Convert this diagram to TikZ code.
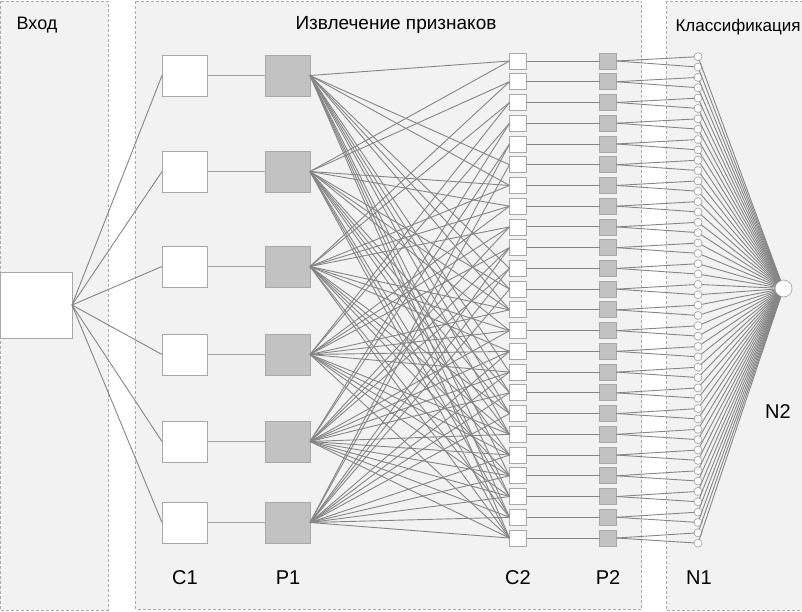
\documentclass[tikz,border=0pt]{standalone}
\usepackage{fontspec}
\setmainfont{Liberation Sans}
\definecolor{panelbg}{HTML}{F2F2F2}
\definecolor{panelline}{HTML}{AAAAAA}
\definecolor{boxline}{HTML}{A8A8A8}
\definecolor{poolfill}{HTML}{C2C2C2}
\definecolor{linkgray}{HTML}{858585}
\definecolor{barline}{HTML}{A0A0A0}
\begin{document}
\begin{tikzpicture}[x=1pt,y=-1pt,
  panel/.style={fill=panelbg,draw=panelline,dash pattern=on 3pt off 2pt,line width=0.7pt},
  convbox/.style={draw=boxline,fill=white,line width=0.8pt,inner sep=0pt,outer sep=0pt},
  poolbox/.style={draw=boxline,fill=poolfill,line width=0.8pt,inner sep=0pt,outer sep=0pt},
  bigc/.style={minimum width=45pt,minimum height=41pt},
  smallc/.style={minimum width=17pt,minimum height=16pt},
  neuron/.style={circle,draw=boxline,fill=white,line width=0.7pt,inner sep=0pt,outer sep=0pt},
  link/.style={draw=linkgray,line width=0.9pt},
  barlink/.style={draw=barline,line width=1.8pt},
  title/.style={inner sep=0pt},
  lab/.style={font=\fontsize{20}{24}\selectfont,inner sep=0pt}]
\useasboundingbox (0,0) rectangle (802,612);
% panels
\draw[panel] (0,1) rectangle (108,610);
\draw[panel] (135.5,1) rectangle (641.5,609);
\draw[panel] (666.5,1) rectangle (802.5,610.5);
% titles
\node[title,font=\fontsize{18}{21}\selectfont] (tin) at (37,25) {Вход};
\node[title,font=\fontsize{19}{22}\selectfont] (tfe) at (396,25) {Извлечение признаков};
\node[title,font=\fontsize{17}{20}\selectfont] (tcl) at (738,27) {Классификация};
% input
\node[convbox,minimum width=72pt,minimum height=66pt] (in) at (36,305) {};
% C1, P1
\foreach \i/\y in {1/75.5,2/171.5,3/266.5,4/354.5,5/441.5,6/522.5}{
  \node[convbox,bigc] (c1-\i) at (184.5,\y) {};
  \node[poolbox,bigc] (p1-\i) at (287.5,\y) {};
}
% C2, P2
\foreach \j in {1,...,24}{
  \pgfmathsetmacro{\yy}{61+20.74*(\j-1)}
  \node[convbox,smallc] (c2-\j) at (518,\yy) {};
  \node[poolbox,smallc] (p2-\j) at (608,\yy) {};
}
% N1, N2
\foreach \k in {1,...,48}{
  \pgfmathsetmacro{\yy}{56.7+10.35*(\k-1)}
  \node[neuron,minimum size=8pt] (n1-\k) at (698,\yy) {};
}
\node[neuron,minimum size=17pt] (n2) at (783.5,288.5) {};
% links
\foreach \i in {1,...,6}{
  \draw[link] (in.east) -- (c1-\i.west);
  \draw[barlink] (c1-\i.east) -- (p1-\i.west);
}
% P1 -> C2 : groups of 2,3,4,5 contiguous maps, last map takes all six
\foreach \j in {1,...,24}{
  \pgfmathtruncatemacro{\ncnt}{\j<7 ? 2 : (\j<13 ? 3 : (\j<19 ? 4 : (\j<24 ? 5 : 6)))}
  \pgfmathtruncatemacro{\sidx}{mod(\j-1,6)+1}
  \foreach \t in {1,...,\ncnt}{
    \pgfmathtruncatemacro{\pidx}{mod(\sidx+\t-2,6)+1}
    \draw[link] (p1-\pidx.east) -- (c2-\j.west);
  }
}
\foreach \j in {1,...,24}{
  \draw[link] (c2-\j.east) -- (p2-\j.west);
  \pgfmathtruncatemacro{\ka}{2*\j-1}
  \pgfmathtruncatemacro{\kb}{2*\j}
  \draw[link] (p2-\j.east) -- (n1-\ka);
  \draw[link] (p2-\j.east) -- (n1-\kb);
}
\foreach \k in {1,...,48}{
  \draw[link] (n1-\k) -- (n2);
}
% labels
\node[lab] (lc1) at (185,578) {C1};
\node[lab] (lp1) at (288,578) {P1};
\node[lab] (lc2) at (518,578) {C2};
\node[lab] (lp2) at (608,578) {P2};
\node[lab] (ln1) at (699,578) {N1};
\node[lab] (ln2) at (778,412) {N2};
\end{tikzpicture}
\end{document}
